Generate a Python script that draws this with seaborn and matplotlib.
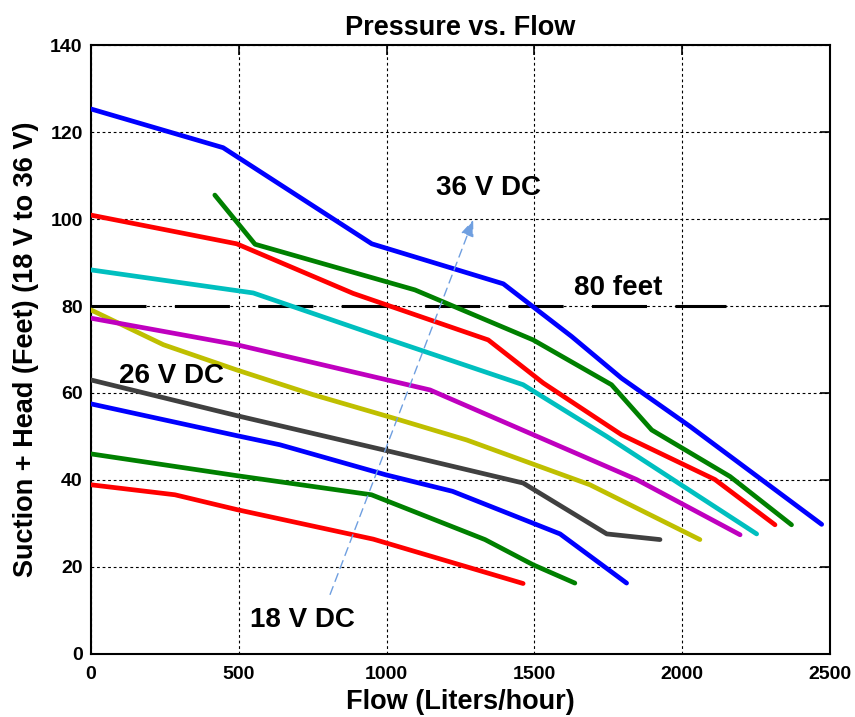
import matplotlib
matplotlib.use("Agg")
import matplotlib.pyplot as plt
import seaborn as sns
import pandas as pd

# ---- data ----
voltages = [36, 34, 32, 30, 28, 26, 24, 22, 20, 18]
flow_36 = [0, 447, 950, 1395, 1626, 1795, 2027, 2472]
head_36 = [125.3, 116.4, 94.3, 85.1, 73.0, 63.4, 52.3, 29.8]
flow_34 = [419, 555, 1096, 1496, 1761, 1897, 2162, 2370]
head_34 = [105.5, 94.2, 83.7, 72.2, 61.9, 51.5, 40.8, 29.7]
flow_32 = [0, 493, 887, 1344, 1530, 1795, 2111, 2314]
head_32 = [100.9, 94.3, 82.9, 72.2, 62.3, 50.4, 40.1, 29.7]
flow_30 = [0, 549, 978, 1462, 1745, 2252]
head_30 = [88.3, 83.0, 73.0, 61.9, 50.0, 27.6]
flow_28 = [0, 493, 1147, 1846, 2196]
head_28 = [77.2, 71.1, 60.7, 40.1, 27.4]
flow_26 = [0, 245, 493, 752, 1045, 1271, 1688, 2060]
head_26 = [79.1, 71.1, 65.3, 59.6, 53.8, 49.2, 38.9, 26.3]
flow_24 = [0, 493, 997, 1462, 1745, 1925]
head_24 = [63.0, 54.8, 46.8, 39.3, 27.6, 26.3]
flow_22 = [0, 493, 639, 997, 1223, 1587, 1812]
head_22 = [57.5, 50.2, 48.1, 41.2, 37.4, 27.6, 16.3]
flow_20 = [0, 493, 949, 1333, 1496, 1637]
head_20 = [46.0, 41.0, 36.6, 26.3, 20.5, 16.3]
flow_18 = [0, 284, 493, 955, 1462]
head_18 = [38.9, 36.6, 33.2, 26.4, 16.2]

ref_head = 80
ref_flow = [0, 2150]
arrow_start = (809, 13.7)
arrow_end = (1293, 99.8)

title = "Pressure vs. Flow"
xlabel = "Flow (Liters/hour)"
ylabel = "Suction + Head (Feet) (18 V to 36 V)"
xticks = [0, 500, 1000, 1500, 2000, 2500]
yticks = [0, 20, 40, 60, 80, 100, 120, 140]

flows = [flow_36, flow_34, flow_32, flow_30, flow_28, flow_26, flow_24, flow_22, flow_20, flow_18]
heads = [head_36, head_34, head_32, head_30, head_28, head_26, head_24, head_22, head_20, head_18]
colors = ["#0000ff", "#008000", "#ff0000", "#00bfbf", "#bf00bf", "#bfbf00",
          "#404040", "#0000ff", "#008000", "#ff0000"]

rows = []
for v, fx, hy in zip(voltages, flows, heads):
    for i, (a, b) in enumerate(zip(fx, hy)):
        rows.append({"voltage": v, "flow": a, "head": b, "order": i})
df = pd.DataFrame(rows)
palette = {v: c for v, c in zip(voltages, colors)}

sns.set_style("white")
plt.rcParams["font.family"] = ["Liberation Sans", "DejaVu Sans"]
plt.rcParams["font.weight"] = "bold"
plt.rcParams["text.color"] = "black"
plt.rcParams["axes.labelcolor"] = "black"
plt.rcParams["xtick.color"] = "black"
plt.rcParams["ytick.color"] = "black"

fig = plt.figure(figsize=(8.55, 7.17), dpi=100)
ax = fig.add_axes([0.1064, 0.0879, 0.8643, 0.8493])

ax.plot(ref_flow, [ref_head, ref_head], color="black", lw=2.2,
        dashes=(18, 9.3), zorder=2)

sns.lineplot(data=df, x="flow", y="head", hue="voltage", palette=palette,
             units="voltage", estimator=None, sort=False, legend=False,
             lw=3.4, ax=ax, zorder=3)

ax.annotate("", xy=arrow_end, xytext=arrow_start,
            arrowprops=dict(arrowstyle="-|>,head_length=1.0,head_width=0.4",
                            color="#6f9fe0", lw=1.0, linestyle=(0, (6, 4)),
                            shrinkA=0, shrinkB=0), zorder=4)

ax.text(1346, 107.1, "36 V DC", fontsize=20, fontweight="bold", ha="center", va="center", color="black")
ax.text(1783, 84.2, "80 feet", fontsize=20, fontweight="bold", ha="center", va="center", color="black")
ax.text(274, 63.9, "26 V DC", fontsize=20, fontweight="bold", ha="center", va="center", color="black")
ax.text(714, 7.9, "18 V DC", fontsize=20, fontweight="bold", ha="center", va="center", color="black")

ax.set_xlim(0, 2500)
ax.set_ylim(0, 140)
ax.set_xticks(xticks)
ax.set_yticks(yticks)
ax.set_xticklabels([str(t) for t in xticks], fontsize=14, fontweight="bold")
ax.set_yticklabels([str(t) for t in yticks], fontsize=14, fontweight="bold")
ax.tick_params(direction="in", length=7, width=1.2, top=True, right=True,
               colors="black")
ax.tick_params(axis="x", pad=9)
ax.tick_params(axis="y", pad=6)
ax.grid(True, color="black", linestyle=(0, (2.5, 2.5)), lw=0.8, zorder=0)
ax.set_axisbelow(True)
for s in ax.spines.values():
    s.set_visible(True)
    s.set_color("black")
    s.set_linewidth(1.5)

ax.set_title(title, fontsize=19.5, fontweight="bold", pad=7, color="black")
ax.set_xlabel(xlabel, fontsize=19.5, fontweight="bold", labelpad=4)
ax.set_ylabel(ylabel, fontsize=19.5, fontweight="bold", labelpad=8)

fig.savefig("out.png", dpi=100)
